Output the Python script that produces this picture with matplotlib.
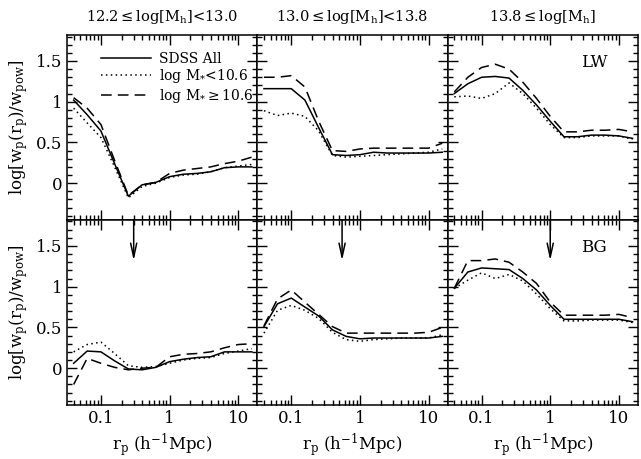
import numpy as np
import matplotlib
matplotlib.use("Agg")
import matplotlib.pyplot as plt
from matplotlib.ticker import MultipleLocator, LogLocator, FixedLocator, NullFormatter

plt.rcParams['font.family'] = ['DejaVu Serif', 'DejaVu Sans']
plt.rcParams['mathtext.fontset'] = 'dejavuserif'

# separation bins (h^-1 Mpc)
rp = [0.040, 0.063, 0.10, 0.158, 0.251, 0.398, 0.631, 1.0, 1.585, 2.512, 3.981, 6.310, 10.0, 15.85]

titles = [r"12.2$\leq$log[M$_{\rm h}$]<13.0", r"13.0$\leq$log[M$_{\rm h}$]<13.8", r"13.8$\leq$log[M$_{\rm h}$]"]
row_tags = ["LW", "BG"]
legend_labels = ["SDSS All", r"log M$_{*}$<10.6", r"log M$_{*}\geq$10.6"]
arrow_x = [0.30, 0.55, 1.0]

# [row][col] -> (all, low mass, high mass)
curves = [
    [
        ([1.02, 0.84, 0.64, 0.24, -0.16, -0.02, 0.01, 0.08, 0.11, 0.12, 0.14, 0.19, 0.20, 0.20],
         [0.92, 0.74, 0.56, 0.20, -0.18, -0.04, 0.00, 0.07, 0.10, 0.11, 0.14, 0.19, 0.21, 0.23],
         [1.05, 0.92, 0.72, 0.28, -0.15, -0.02, 0.01, 0.12, 0.16, 0.18, 0.20, 0.24, 0.27, 0.32]),
        ([1.16, 1.16, 1.16, 1.02, 0.68, 0.35, 0.34, 0.35, 0.38, 0.37, 0.37, 0.37, 0.37, 0.38],
         [0.89, 0.83, 0.86, 0.82, 0.64, 0.34, 0.32, 0.33, 0.34, 0.35, 0.36, 0.37, 0.38, 0.42],
         [1.30, 1.30, 1.32, 1.18, 0.76, 0.40, 0.39, 0.42, 0.43, 0.43, 0.43, 0.43, 0.43, 0.49]),
        ([1.10, 1.22, 1.30, 1.31, 1.29, 1.14, 0.96, 0.76, 0.57, 0.57, 0.59, 0.59, 0.58, 0.55],
         [1.06, 1.07, 1.04, 1.10, 1.23, 1.10, 0.92, 0.72, 0.56, 0.56, 0.58, 0.58, 0.58, 0.54],
         [1.12, 1.30, 1.42, 1.46, 1.40, 1.24, 1.04, 0.82, 0.63, 0.63, 0.65, 0.65, 0.66, 0.63]),
    ],
    [
        ([0.06, 0.21, 0.20, 0.09, -0.01, -0.02, 0.01, 0.08, 0.11, 0.13, 0.14, 0.20, 0.20, 0.20],
         [0.20, 0.29, 0.32, 0.18, 0.03, 0.01, 0.02, 0.06, 0.10, 0.12, 0.13, 0.18, 0.21, 0.24],
         [-0.20, 0.12, 0.06, 0.01, -0.02, 0.00, 0.01, 0.14, 0.17, 0.18, 0.20, 0.25, 0.29, 0.30]),
        ([0.51, 0.79, 0.86, 0.75, 0.64, 0.47, 0.39, 0.36, 0.37, 0.37, 0.37, 0.37, 0.37, 0.39],
         [0.43, 0.71, 0.77, 0.71, 0.61, 0.44, 0.35, 0.33, 0.35, 0.36, 0.37, 0.37, 0.37, 0.41],
         [0.52, 0.85, 0.96, 0.81, 0.66, 0.51, 0.43, 0.43, 0.43, 0.43, 0.43, 0.43, 0.44, 0.50]),
        ([0.98, 1.18, 1.23, 1.22, 1.21, 1.10, 0.96, 0.77, 0.60, 0.60, 0.60, 0.60, 0.60, 0.57],
         [0.98, 1.08, 1.17, 1.10, 1.15, 1.07, 0.91, 0.73, 0.58, 0.58, 0.59, 0.59, 0.59, 0.56],
         [0.98, 1.32, 1.32, 1.34, 1.30, 1.18, 1.04, 0.81, 0.65, 0.65, 0.65, 0.65, 0.66, 0.62]),
    ],
]

styles = [dict(ls='-', lw=1.1), dict(ls=(0, (1, 2.2)), lw=1.1), dict(ls=(0, (7, 4)), lw=1.1)]

fig = plt.figure(figsize=(6.41, 4.59), dpi=100)
left, right, top, bottom = 0.1045, 0.9953, 0.924, 0.118
w = (right - left) / 3
h = (top - bottom) / 2

for r in range(2):
    for c in range(3):
        ax = fig.add_axes([left + c * w, top - (r + 1) * h, w, h])
        ax.set_xscale('log')
        ax.set_xlim(0.032, 19)
        ax.set_ylim(-0.45, 1.82)
        for ys, st in zip(curves[r][c], styles):
            ax.plot(rp, ys, color='black', **st)

        ax.xaxis.set_major_locator(FixedLocator([0.1, 1, 10]))
        ax.xaxis.set_minor_locator(LogLocator(base=10, subs=np.arange(2, 10)))
        ax.xaxis.set_minor_formatter(NullFormatter())
        ax.yaxis.set_major_locator(MultipleLocator(0.5))
        ax.yaxis.set_minor_locator(MultipleLocator(0.1))
        ax.tick_params(which='both', direction='in', top=True, right=True, width=1)
        ax.tick_params(which='major', length=7)
        ax.tick_params(which='minor', length=3.5)
        for s in ax.spines.values():
            s.set_linewidth(1.1)

        if r == 1:
            ax.set_xticklabels(['0.1', '1', '10'], fontsize=12)
            ax.set_xlabel(r"r$_{\rm p}$ (h$^{-1}$Mpc)", fontsize=12, labelpad=4)
            ax.annotate('', xy=(arrow_x[c], 1.32), xytext=(arrow_x[c], 1.82),
                        arrowprops=dict(arrowstyle='->,head_length=1.0,head_width=0.22',
                                        color='black', lw=1.1, shrinkA=0, shrinkB=0))
        else:
            ax.set_xticklabels([])
            ax.set_title(titles[c], fontsize=10.5, pad=10)
        if c == 0:
            ax.set_yticks([0, 0.5, 1, 1.5])
            ax.set_yticklabels(['0', '0.5', '1', '1.5'], fontsize=12)
            ax.set_ylabel(r"log[w$_{\rm p}$(r$_{\rm p}$)/w$_{\rm pow}$]", fontsize=12)
        else:
            ax.set_yticklabels([])
        if c == 2:
            ax.text(0.70, 0.85, row_tags[r], transform=ax.transAxes, fontsize=12,
                    ha='left', va='center')
        if r == 0 and c == 0:
            ax.legend(legend_labels, loc='upper left', bbox_to_anchor=(0.15, 0.94),
                      frameon=False, fontsize=10, handlelength=3.6,
                      handletextpad=0.6, labelspacing=0.12, borderaxespad=0)

fig.savefig('out.png', dpi=100)
